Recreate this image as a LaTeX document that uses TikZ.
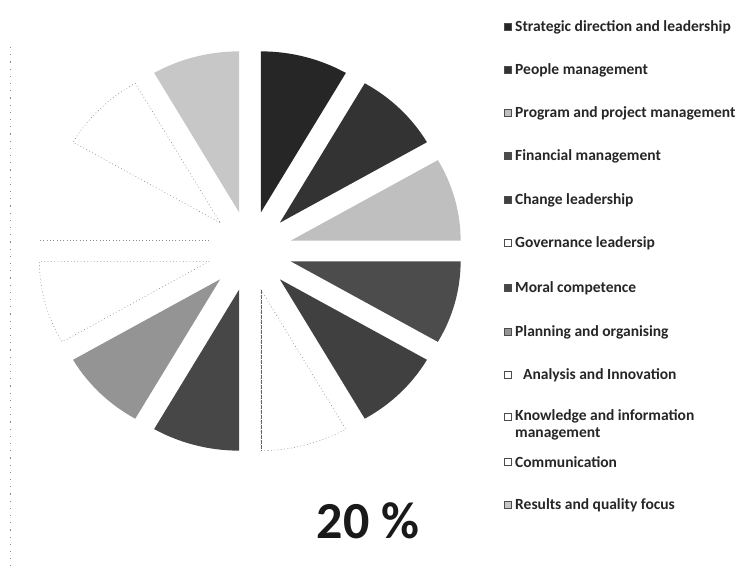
\documentclass[tikz,border=0pt]{standalone}
\usepackage{fontspec}
\setmainfont{Carlito}
\begin{document}
\begin{tikzpicture}[x=1pt,y=1pt,
  legtext/.style={anchor=west, inner sep=0pt, font=\fontsize{15.5}{17}\bfseries\selectfont, text=black!85},
  legmark/.style={draw=black!70, line width=0.4pt, minimum width=7pt, minimum height=7pt, inner sep=0pt},
  ghost/.style={draw=black!45, line width=0.6pt, dash pattern=on 0.8pt off 2.5pt},
  scanline/.style={draw=black!45, line width=1pt, dash pattern=on 1.2pt off 6pt}]
\useasboundingbox (0,0) rectangle (746,566);
\def\R{161}
\def\D{40}
% pie slices
\begin{scope}[shift={(250,315)}, xscale=1.055]
\foreach \k/\col in {1/black!85,2/black!80,3/black!25,4/black!70,5/black!75,6/white,7/black!72,8/black!42,9/white,10/white,11/white,12/black!22} {
  \pgfmathsetmacro\a{90-30*(\k-1)}
  \pgfmathsetmacro\b{\a-30}
  \pgfmathsetmacro\m{\a-15}
  \fill[\col] (\m:\D) -- ++(\a:\R) arc[start angle=\a, end angle=\b, radius=\R] -- cycle;
}
% faint outlines of the white slices
\foreach \k in {6,9,11} {
  \pgfmathsetmacro\a{90-30*(\k-1)}
  \pgfmathsetmacro\b{\a-30}
  \pgfmathsetmacro\m{\a-15}
  \draw[ghost] (\m:\D) -- ++(\a:\R) arc[start angle=\a, end angle=\b, radius=\R] -- cycle;
}
\draw[ghost] (165:\D) -- ++(180:\R);
\draw[black!60, line width=0.8pt, dash pattern=on 4pt off 1pt] (-75:\D) -- ++(-90:\R);
\end{scope}
% scan artefact at the left edge
\draw[scanline] (10,519) -- (10,0);
% percentage
\node[inner sep=0pt, font=\fontsize{52}{52}\bfseries\selectfont, text=black!90] (pct) at (368,45) {20 \%};
% legend
\foreach \i/\y/\col/\txt in {
  1/27/black!85/{Strategic direction and leadership},
  2/70/black!80/{People management},
  3/113/black!25/{Program and project management},
  4/156/black!70/{Financial management},
  5/200/black!75/{Change leadership},
  6/243/white/{Governance leadersip},
  7/288/black!72/{Moral competence},
  8/332/black!42/{Planning and organising},
  9/375/white/{\hspace{8pt}Analysis and Innovation},
  11/462/white/{Communication},
  12/505/black!22/{Results and quality focus}} {
  \node[legmark, fill=\col] (m\i) at (508,566-\y) {};
  \node[legtext] (t\i) at (515,566-\y) {\txt};
}
\node[legmark, fill=white] (m10) at (508,566-417) {};
\node[legtext, align=left, anchor=north west] (t10) at (515,566-417+8) {Knowledge and information\\management};
\end{tikzpicture}
\end{document}
